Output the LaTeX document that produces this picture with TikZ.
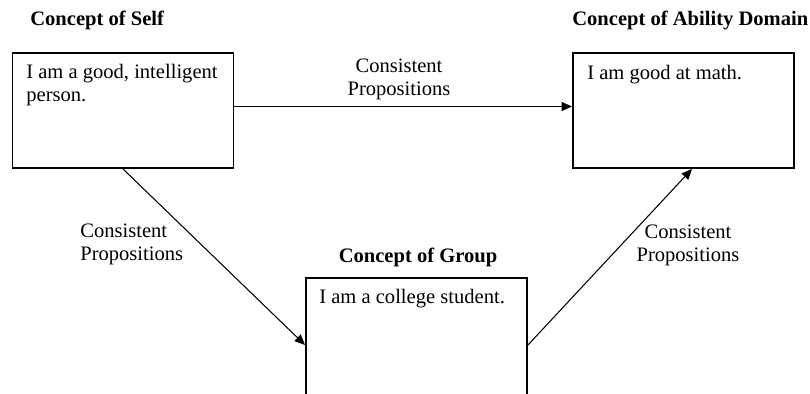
\documentclass[tikz,border=0pt]{standalone}
\usepackage{fontspec}
\setmainfont{Liberation Serif}
\usepackage{tikz}
\usetikzlibrary{arrows.meta}

\begin{document}
\begin{tikzpicture}[x=0.02cm, y=-0.02cm,
  box/.style={draw, line width=1.1pt, inner sep=0pt, minimum width=4.42cm},
  txt/.style={inner sep=0pt, align=left, font=\fontsize{11.7}{13}\selectfont},
  ttl/.style={inner sep=0pt, font=\fontsize{11.7}{13}\selectfont\bfseries},
  lbl/.style={inner sep=0pt, font=\fontsize{11.7}{13}\selectfont},
  arr/.style={line width=0.6pt, -{Triangle[length=2.1mm, width=1.8mm]}}]
\clip (0,0) rectangle (810,393);
% boxes
\node[box, minimum height=2.3cm] (self) at (123, 110.5) {};
\node[box, minimum height=2.3cm] (ability) at (683.5, 110.5) {};
\node[box, minimum height=2.68cm] (group) at (416.5, 345) {};
% titles
\node[ttl, anchor=west] (selft) at (30, 20) {Concept of Self};
\node[ttl, anchor=west] (abilityt) at (572, 20) {Concept of Ability Domain};
\node[ttl] (groupt) at (418, 257) {Concept of Group};
% box texts
\node[txt, anchor=north west] (selfx) at (26, 64) {I am a good, intelligent\\person.};
\node[txt, anchor=north west] (abilityx) at (587, 65) {I am good at math.};
\node[txt, anchor=north west] (groupx) at (319, 289) {I am a college student.};
% links
\draw[arr] ([yshift=0.08cm]self.east) -- ([yshift=0.08cm]ability.west);
\draw[arr] (self.south) -- (group.west);
\draw[arr] (group.east) -- ([xshift=0.17cm]ability.south);
\node[lbl, align=center] (l1) at (399, 79) {Consistent\\Propositions};
\node[lbl, align=left, anchor=west] (l2) at (80, 244.5) {Consistent\\Propositions};
\node[lbl, align=center] (l3) at (688, 245) {Consistent\\Propositions};
\end{tikzpicture}
\end{document}
